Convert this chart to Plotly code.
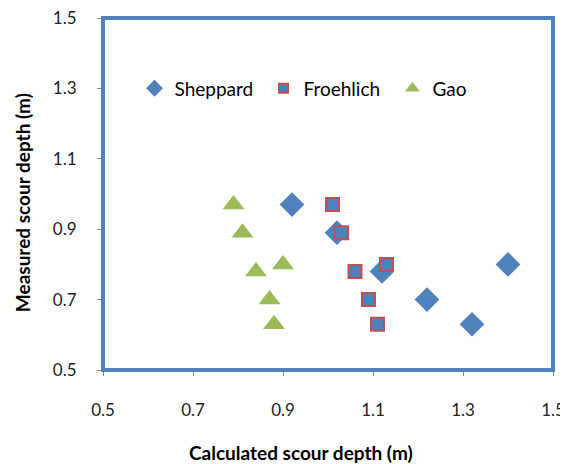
import plotly.graph_objects as go

# values
sheppard_x = [0.92, 1.02, 1.12, 1.22, 1.32, 1.40]
sheppard_y = [0.97, 0.89, 0.78, 0.70, 0.63, 0.80]
froehlich_x = [1.01, 1.03, 1.06, 1.09, 1.11, 1.13]
froehlich_y = [0.97, 0.89, 0.78, 0.70, 0.63, 0.80]
gao_x = [0.79, 0.81, 0.84, 0.87, 0.88, 0.90]
gao_y = [0.97, 0.89, 0.78, 0.70, 0.63, 0.80]
tick_vals = [0.5, 0.7, 0.9, 1.1, 1.3, 1.5]

FONT = "Lato, 'Open Sans', sans-serif"
BLUE = "#4F81BD"
RED = "#C0504D"
GREEN = "#9BBB59"

series = [
    ("Sheppard", sheppard_x, sheppard_y, "diamond", 19, 13, None),
    ("Froehlich", froehlich_x, froehlich_y, "square", 13, 9, RED),
    ("Gao", gao_x, gao_y, "triangle-up", 19, 13, None),
]
colors = [BLUE, BLUE, GREEN]

fig = go.Figure()
for (name, xs, ys, sym, size, lsize, edge), col in zip(series, colors):
    line = dict(width=2, color=edge) if edge else dict(width=0)
    fig.add_trace(go.Scatter(
        x=xs, y=ys, mode="markers", name=name, showlegend=False,
        marker=dict(symbol=sym, size=size, color=col, line=line),
    ))
    # smaller marker just for the legend entry
    fig.add_trace(go.Scatter(
        x=[None], y=[None], mode="markers", name=name,
        marker=dict(symbol=sym, size=lsize, color=col, line=line),
    ))

axis_common = dict(
    range=[0.5, 1.5], tickvals=tick_vals, ticktext=[f"{v:.1f}" for v in tick_vals],
    showgrid=False, zeroline=False, showline=True, linecolor="#868686", linewidth=1,
    ticks="outside", ticklen=5, tickcolor="#868686", automargin=False,
    ticklabeloverflow="allow", tickfont=dict(size=17, color="#222"),
)

# the page puts the figure 8px in from the top-left corner, so size it to suit
fig.update_layout(
    width=568, height=456,
    margin=dict(l=95, r=23, t=10, b=94),
    paper_bgcolor="white", plot_bgcolor="white",
    font=dict(family=FONT, color="black"),
    showlegend=True,
    legend=dict(
        orientation="h", x=0.07, y=0.80, xanchor="left", yanchor="middle",
        font=dict(size=19), bgcolor="rgba(0,0,0,0)", itemsizing="trace",
        entrywidth=84, entrywidthmode="pixels",
    ),
    xaxis=dict(**axis_common, ticklabelstandoff=20),
    yaxis=dict(**axis_common, ticklabelstandoff=17),
    annotations=[
        dict(text="<b>Calculated scour depth (m)</b>", xref="paper", yref="paper",
             x=0.44, y=-0.233, xanchor="center", yanchor="middle", showarrow=False,
             font=dict(size=19)),
        dict(text="<b>Measured scour depth (m)</b>", xref="paper", yref="paper",
             x=-0.18, y=0.474, xanchor="center", yanchor="middle", showarrow=False,
             textangle=-90, font=dict(size=19)),
    ],
    shapes=[dict(type="rect", xref="paper", yref="paper", x0=0, y0=0, x1=1, y1=1,
                 line=dict(color=BLUE, width=4), layer="above")],
)

fig.write_html("out.html")
